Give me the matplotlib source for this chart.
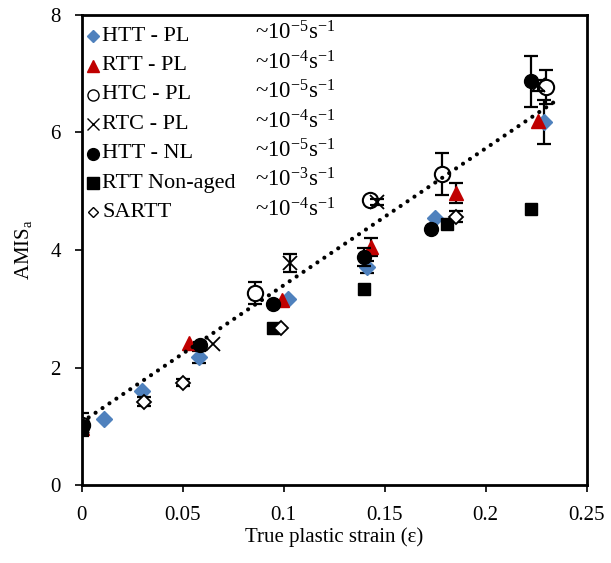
import numpy as np
from matplotlib import pyplot as plt

# ################ Data. ################ #

htt_pl_x = [0.0, 0.011, 0.030, 0.058, 0.102, 0.141, 0.175, 0.229]
htt_pl_y = [1.00, 1.12, 1.60, 2.18, 3.17, 3.71, 4.54, 6.18]
htt_pl_err = [0, 0, 0, 0.10, 0, 0.10, 0, 0.37]

rtt_pl_x = [0.0, 0.053, 0.099, 0.1434, 0.1855, 0.226]
rtt_pl_y = [0.97, 2.42, 3.15, 4.05, 4.97, 6.20]
rtt_pl_err = [0, 0, 0, 0.15, 0.17, 0]

htc_pl_x = [0.0, 0.0857, 0.1425, 0.1786, 0.230]
htc_pl_y = [1.03, 3.27, 4.85, 5.29, 6.77]
htc_pl_err = [0.20, 0.19, 0, 0.36, 0.29]

rtc_pl_x = [0.0, 0.065, 0.103, 0.146, 0.226]
rtc_pl_y = [1.00, 2.40, 3.78, 4.82, 6.80]
rtc_pl_err = [0, 0, 0.15, 0.05, 0.10]

htt_nl_x = [0.0, 0.0585, 0.0946, 0.1396, 0.173, 0.2226]
htt_nl_y = [1.00, 2.38, 3.08, 3.88, 4.36, 6.87]
htt_nl_err = [0, 0.05, 0, 0.15, 0, 0.43]

rtt_na_x = [0.0, 0.0946, 0.1396, 0.181, 0.2226]
rtt_na_y = [0.97, 2.67, 3.34, 4.44, 4.70]
rtt_na_err = [0, 0, 0, 0, 0]

sartt_x = [0.031, 0.050, 0.0985, 0.1855]
sartt_y = [1.42, 1.74, 2.68, 4.57]
sartt_err = [0.07, 0.06, 0, 0.10]

series_names = ["HTT - PL", "RTT - PL", "HTC - PL", "RTC - PL", "HTT - NL", "RTT Non-aged", "SARTT"]
series_rates = ["-5", "-4", "-5", "-4", "-5", "-3", "-4"]

# Linear trend line (dotted).
trend_intercept = 1.07
trend_slope = 23.3
trend_x_end = 0.235

x_ticks = [0, 0.05, 0.1, 0.15, 0.2, 0.25]
x_tick_labels = ["0", "0.05", "0.1", "0.15", "0.2", "0.25"]
y_ticks = [0, 2, 4, 6, 8]

# ################ Plot. ################ #

plt.rcParams["font.family"] = ["Liberation Serif", "DejaVu Serif"]
plt.rcParams["mathtext.fontset"] = "custom"
plt.rcParams["mathtext.rm"] = "Liberation Serif"
plt.rcParams["mathtext.it"] = "Liberation Serif:italic"

fig = plt.figure(figsize=(6.11, 5.63), dpi=100)
ax = fig.add_axes([0.1337, 0.1385, 0.8265, 0.8349])

styles = [
    dict(marker="D", ms=8, mfc="#4F81BD", mec="#4F81BD", mew=1),
    dict(marker="^", ms=10, mfc="#C00000", mec="#C00000", mew=1),
    dict(marker="o", ms=11, mfc="white", mec="black", mew=1.5),
    dict(marker="x", ms=10, mfc="black", mec="black", mew=1.3),
    dict(marker="o", ms=10, mfc="black", mec="black", mew=1),
    dict(marker="s", ms=9, mfc="black", mec="black", mew=1),
    dict(marker="D", ms=7, mfc="white", mec="black", mew=1.3),
]
legend_styles = [
    dict(marker="D", ms=6.5, mfc="#4F81BD", mec="#4F81BD"),
    dict(marker="^", ms=8.5, mfc="#C00000", mec="#C00000"),
    dict(marker="o", ms=8, mfc="white", mec="black", mew=1),
    dict(marker="x", ms=8, mfc="black", mec="black", mew=1),
    dict(marker="o", ms=8.5, mfc="black", mec="black"),
    dict(marker="s", ms=8, mfc="black", mec="black"),
    dict(marker="D", ms=5.5, mfc="white", mec="black", mew=1),
]
data = [
    (htt_pl_x, htt_pl_y, htt_pl_err),
    (rtt_pl_x, rtt_pl_y, rtt_pl_err),
    (htc_pl_x, htc_pl_y, htc_pl_err),
    (rtc_pl_x, rtc_pl_y, rtc_pl_err),
    (htt_nl_x, htt_nl_y, htt_nl_err),
    (rtt_na_x, rtt_na_y, rtt_na_err),
    (sartt_x, sartt_y, sartt_err),
]

for z, ((x, y, err), st) in enumerate(zip(data, styles)):
    x = np.array(x)
    y = np.array(y)
    err = np.array(err)
    m = err > 0
    if m.any():
        ax.errorbar(x[m], y[m], yerr=err[m], fmt="none", ecolor="black",
                    elinewidth=1.6, capsize=5, capthick=1.6, zorder=3 + z)
    ax.plot(x, y, linestyle="none", zorder=3 + z, **st)

tx = np.array([0.0, trend_x_end])
ax.plot(tx, trend_intercept + trend_slope * tx, color="black", lw=3,
        linestyle=(0, (0.01, 2.0)), dash_capstyle="round", zorder=20)

# Legend drawn row by row so the rate column lines up.
row_top = 0.955
row_step = 0.0625
for i, (name, rate, st) in enumerate(zip(series_names, series_rates, legend_styles)):
    yy = row_top - i * row_step
    ax.plot([0.022], [yy], transform=ax.transAxes, linestyle="none", clip_on=False, zorder=30, **st)
    ax.text(0.041, yy, name, transform=ax.transAxes, fontsize=16, va="center", ha="left")
    ax.text(0.343, yy + 0.006, "~10$^{%s}$s$^{-1}$" % rate, transform=ax.transAxes,
            fontsize=16.5, va="center", ha="left")

ax.set_xlim(0, 0.25)
ax.set_ylim(0, 8)
ax.set_xticks(x_ticks)
ax.set_xticklabels(x_tick_labels)
ax.set_yticks(y_ticks)
ax.tick_params(labelsize=15, length=5, width=1.2, direction="out", pad=10)
for s in ax.spines.values():
    s.set_linewidth(2)
ax.set_xlabel("True plastic strain (ε)", fontsize=15, labelpad=2)
ax.set_ylabel("AMIS$_\\mathrm{a}$", fontsize=15, labelpad=12)

fig.savefig("out.png", dpi=100)
